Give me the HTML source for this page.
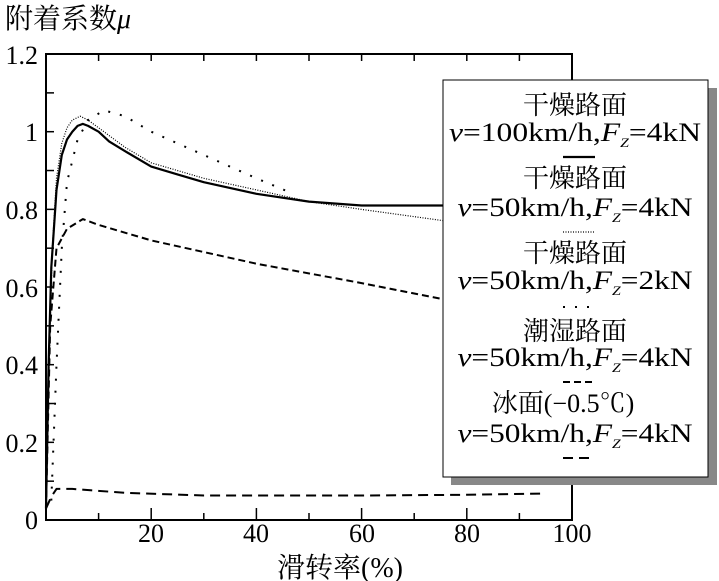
<!DOCTYPE html><html><head><meta charset="utf-8"><style>
body{margin:0;background:#fff}
svg{display:block}
text{font-family:"Liberation Serif","Noto Serif CJK SC","Noto Sans CJK SC",serif;fill:#000}
</style></head><body>
<svg id="s" width="719" height="581" viewBox="0 0 719 581">
<text x="5" y="28" font-size="28">附着系数<tspan font-style="italic">μ</tspan></text>
<g font-size="26" text-anchor="end">
<text x="38" y="64">1.2</text><text x="38" y="141">1</text><text x="38" y="219">0.8</text>
<text x="38" y="297">0.6</text><text x="38" y="374">0.4</text><text x="38" y="452">0.2</text><text x="38" y="529">0</text>
</g>
<g font-size="26" text-anchor="middle">
<text x="151" y="542">20</text><text x="256" y="542">40</text><text x="362" y="542">60</text><text x="467" y="542">80</text><text x="572" y="542">100</text>
</g>
<text x="340" y="577" font-size="28" text-anchor="middle">滑转率(%)</text>
<rect x="46" y="54" width="526" height="466" fill="none" stroke="#000" stroke-width="2"/>
<g id="ticks" stroke="#000" stroke-width="1.5"></g>
<g id="curves" fill="none" stroke="#000"></g>
<rect x="451" y="88" width="266" height="397" fill="#888"/>
<rect x="443" y="80" width="265" height="397" fill="#fff" stroke="#000" stroke-width="1"/>
<g font-size="26" text-anchor="middle">
<text x="575" y="114">干燥路面</text>
<text x="575" y="141" textLength="252" lengthAdjust="spacingAndGlyphs"><tspan font-style="italic">v</tspan>=100km/h,<tspan font-style="italic">F</tspan><tspan font-size="13" dy="6" font-style="italic">Z</tspan><tspan dy="-6">=4kN</tspan></text>
<text x="575" y="187">干燥路面</text>
<text x="575" y="216" textLength="235" lengthAdjust="spacingAndGlyphs"><tspan font-style="italic">v</tspan>=50km/h,<tspan font-style="italic">F</tspan><tspan font-size="13" dy="6" font-style="italic">Z</tspan><tspan dy="-6">=4kN</tspan></text>
<text x="575" y="262">干燥路面</text>
<text x="575" y="289" textLength="235" lengthAdjust="spacingAndGlyphs"><tspan font-style="italic">v</tspan>=50km/h,<tspan font-style="italic">F</tspan><tspan font-size="13" dy="6" font-style="italic">Z</tspan><tspan dy="-6">=2kN</tspan></text>
<text x="575" y="340">潮湿路面</text>
<text x="575" y="366" textLength="235" lengthAdjust="spacingAndGlyphs"><tspan font-style="italic">v</tspan>=50km/h,<tspan font-style="italic">F</tspan><tspan font-size="13" dy="6" font-style="italic">Z</tspan><tspan dy="-6">=4kN</tspan></text>
<text x="563" y="412">冰面(−0.5℃)</text>
<text x="575" y="442" textLength="235" lengthAdjust="spacingAndGlyphs"><tspan font-style="italic">v</tspan>=50km/h,<tspan font-style="italic">F</tspan><tspan font-size="13" dy="6" font-style="italic">Z</tspan><tspan dy="-6">=4kN</tspan></text>
</g>
<g stroke="#000" fill="none">
<line x1="563" y1="157" x2="595" y2="157" stroke-width="2.2"/>
<line x1="563" y1="232" x2="595" y2="232" stroke-width="1.2" stroke-dasharray="1,1.5"/>
<line x1="563" y1="307" x2="595" y2="307" stroke-width="2" stroke-dasharray="2,10"/>
<line x1="563" y1="382" x2="595" y2="382" stroke-width="2" stroke-dasharray="7,4"/>
<line x1="563" y1="458" x2="595" y2="458" stroke-width="2" stroke-dasharray="10,6"/>
</g>
</svg>
<script>
var X=function(x){return 46+x*5.26},Y=function(y){return 520-y*388.3};
var t=document.getElementById('ticks'),h='';
for(var i=1;i<12;i++){var y=Y(i/10);h+='<line x1="46" y1="'+y+'" x2="54" y2="'+y+'"/><line x1="564" y1="'+y+'" x2="572" y2="'+y+'"/>';}
for(var i=1;i<10;i++){var x=X(i*10);h+='<line x1="'+x+'" y1="520" x2="'+x+'" y2="'+(i%2?513:508)+'"/><line x1="'+x+'" y1="54" x2="'+x+'" y2="61"/>';}
t.innerHTML=h;
function P(a){return a.map(function(p){return X(p[0]).toFixed(1)+','+Y(p[1]).toFixed(1)}).join(' ')}
var C=[
[[[0,0.03],[0.5,0.4],[1,0.65],[2,0.85],[3,0.94],[4,0.98],[5,1.0],[6,1.015],[7,1.02],[8,1.015],[10,1.0],[12,0.975],[15,0.95],[20,0.91],[25,0.89],[30,0.87],[40,0.84],[50,0.82],[60,0.81],[76,0.81]],'2.2',''],
[[[0,0.03],[0.6,0.4],[1.2,0.7],[2,0.88],[3,0.97],[4,1.01],[5,1.03],[6.5,1.04],[8,1.03],[10,1.01],[15,0.96],[20,0.92],[30,0.88],[40,0.85],[50,0.82],[60,0.8],[76,0.77]],'1.2','1,1.5'],
[[[1,0.05],[2,0.4],[3,0.7],[4,0.87],[6,0.98],[8,1.03],[11,1.055],[15,1.04],[20,1.0],[30,0.94],[40,0.88],[47,0.84]],'2','2,10'],
[[[0,0.03],[0.8,0.5],[2,0.7],[4,0.75],[7,0.775],[10,0.76],[20,0.72],[40,0.66],[60,0.61],[75,0.57]],'2','7,4'],
[[[0,0.03],[1,0.06],[2,0.08],[5,0.08],[15,0.07],[30,0.063],[60,0.063],[80,0.065],[94,0.068]],'2','10,6']];
var g=document.getElementById('curves'),s='';
C.forEach(function(c){s+='<polyline points="'+P(c[0])+'" stroke-width="'+c[1]+'" stroke-linejoin="round"'+(c[2]?' stroke-dasharray="'+c[2]+'"':'')+'/>';});
g.innerHTML=s;
</script>
</body></html>
